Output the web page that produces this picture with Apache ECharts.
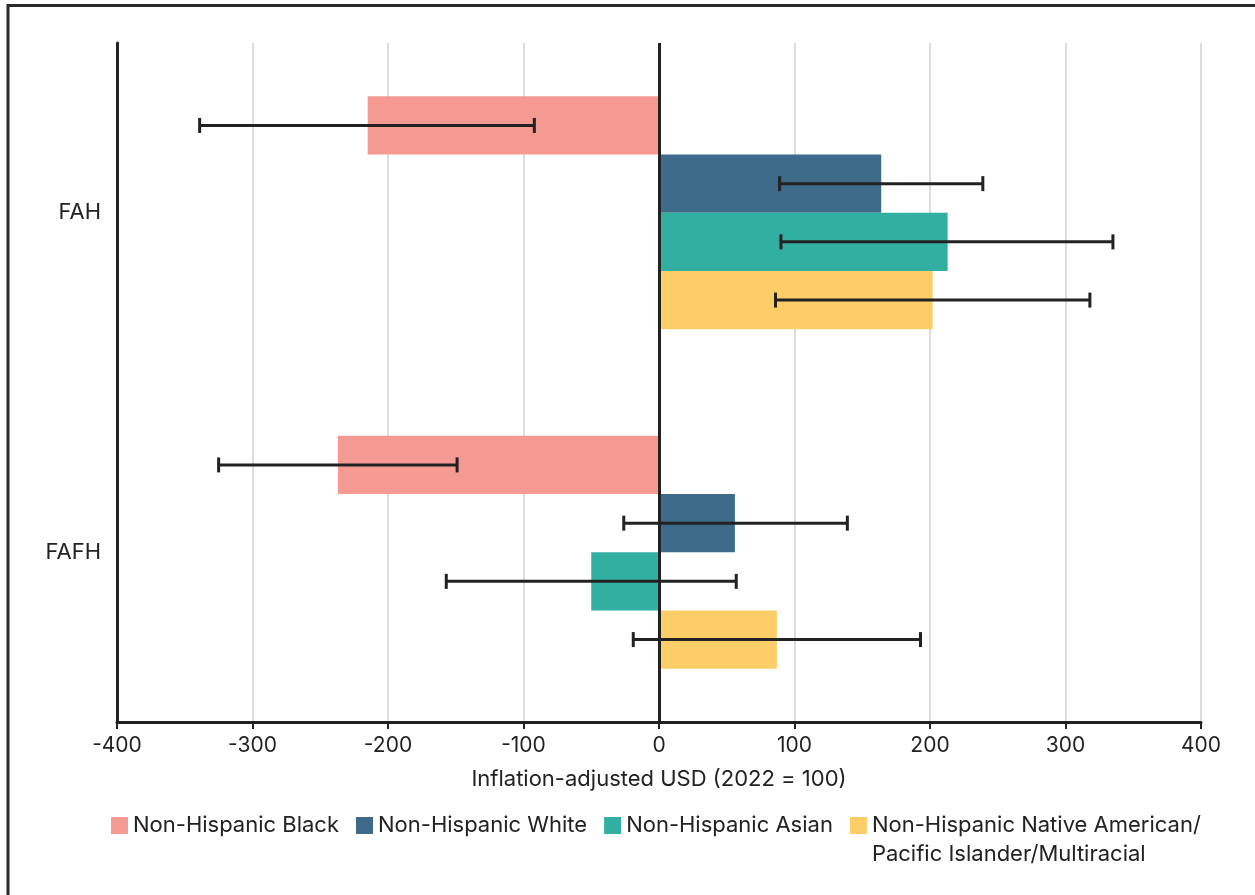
<!DOCTYPE html>
<html>
<head>
<meta charset="utf-8">
<script src="https://cdn.jsdelivr.net/npm/echarts@6/dist/echarts.min.js"></script>
<style>
html,body{margin:0;padding:0;background:#fff;}
#chart{width:1255px;height:895px;}
</style>
</head>
<body>
<div id="chart"></div>
<script>
const categories = ['FAH', 'FAFH'];
const seriesNames = ['Non-Hispanic Black', 'Non-Hispanic White', 'Non-Hispanic Asian', 'Non-Hispanic Native American/\nPacific Islander/Multiracial'];
const colors = ['#F59A92', '#3F6B8A', '#31AFA0', '#FDCE68'];

const blackValues = [-215, -237];
const whiteValues = [164, 56];
const asianValues = [213, -50];
const nativeValues = [202, 87];

const blackLow = [-339, -325];
const blackHigh = [-92, -149];
const whiteLow = [89, -26];
const whiteHigh = [239, 139];
const asianLow = [90, -157];
const asianHigh = [335, 57];
const nativeLow = [86, -19];
const nativeHigh = [318, 193];

const xTicks = [-400, -300, -200, -100, 0, 100, 200, 300, 400];

const values = [blackValues, whiteValues, asianValues, nativeValues];
const lows = [blackLow, whiteLow, asianLow, nativeLow];
const highs = [blackHigh, whiteHigh, asianHigh, nativeHigh];

const CAT_GAP = 0.314;
const FONT = 'Inter, "Noto Sans", sans-serif';
const INK = '#222222';

const errData = [];
lows.forEach((lo, s) => {
  lo.forEach((v, c) => errData.push([c, s, v, highs[s][c]]));
});

const chart = echarts.init(document.getElementById('chart'));

const barSeries = values.map((vals, i) => {
  const s = {
    name: seriesNames[i],
    type: 'bar',
    data: vals,
    itemStyle: { color: colors[i] },
    barGap: '0%',
    barCategoryGap: (CAT_GAP * 100) + '%',
    z: 2
  };
  if (i === 0) {
    s.markLine = {
      silent: true,
      symbol: ['none', 'none'],
      label: { show: false },
      lineStyle: { color: INK, width: 3, type: 'solid' },
      data: [{ xAxis: 0 }],
      z: 5
    };
  }
  return s;
});

const errSeries = {
  type: 'custom',
  name: 'err',
  z: 10,
  data: errData,
  encode: { x: [2, 3], y: 0 },
  renderItem: function (params, api) {
    const c = api.value(0);
    const s = api.value(1);
    const lo = api.value(2);
    const hi = api.value(3);
    const center = api.coord([0, c]);
    const band = api.size([0, 1])[1];
    const barH = band * (1 - CAT_GAP) / 4;
    const y = center[1] - 2 * barH + (s + 0.5) * barH;
    const x1 = api.coord([lo, c])[0];
    const x2 = api.coord([hi, c])[0];
    const capH = 7.5;
    const style = { stroke: INK, lineWidth: 3 };
    return {
      type: 'group',
      children: [
        { type: 'line', shape: { x1: x1, y1: y, x2: x2, y2: y }, style: style },
        { type: 'line', shape: { x1: x1, y1: y - capH, x2: x1, y2: y + capH }, style: style },
        { type: 'line', shape: { x1: x2, y1: y - capH, x2: x2, y2: y + capH }, style: style }
      ]
    };
  }
};

chart.setOption({
  animation: false,
  textStyle: { fontFamily: FONT },
  graphic: [
    { type: 'line', shape: { x1: 8, y1: 5.5, x2: 1260, y2: 5.5 }, style: { stroke: '#2a2a2a', lineWidth: 3 } },
    { type: 'line', shape: { x1: 8, y1: 4, x2: 8, y2: 900 }, style: { stroke: '#2a2a2a', lineWidth: 3 } }
  ],
  grid: { left: 117, right: 54, top: 43, bottom: 173, containLabel: false },
  legend: {
    data: seriesNames,
    left: 111,
    top: 782,
    padding: 0,
    itemWidth: 17,
    itemHeight: 17,
    itemGap: 17,
    icon: 'rect',
    selectedMode: false,
    formatter: function (name) {
      return name.indexOf('\n') >= 0 ? '\n' + name : name;
    },
    textStyle: { fontSize: 22, color: INK, fontFamily: FONT, lineHeight: 29 }
  },
  xAxis: {
    type: 'value',
    min: xTicks[0],
    max: xTicks[xTicks.length - 1],
    interval: 100,
    name: 'Inflation-adjusted USD (2022 = 100)',
    nameLocation: 'middle',
    nameGap: 46,
    nameTextStyle: { fontSize: 22, color: INK, fontFamily: FONT },
    axisLine: { show: true, onZero: false, lineStyle: { color: INK, width: 3 } },
    axisTick: { show: true, length: 7, lineStyle: { color: INK, width: 2 } },
    axisLabel: { fontSize: 21, color: INK, margin: 13, fontFamily: FONT },
    splitLine: { show: true, lineStyle: { color: '#d2d2d2', width: 1.5 } }
  },
  yAxis: {
    type: 'category',
    data: categories,
    inverse: true,
    axisLine: { show: true, onZero: false, lineStyle: { color: INK, width: 3 } },
    axisTick: { show: false },
    axisLabel: { fontSize: 22, color: INK, margin: 16, fontFamily: FONT },
    splitLine: { show: false }
  },
  series: barSeries.concat([errSeries])
});
</script>
</body>
</html>
